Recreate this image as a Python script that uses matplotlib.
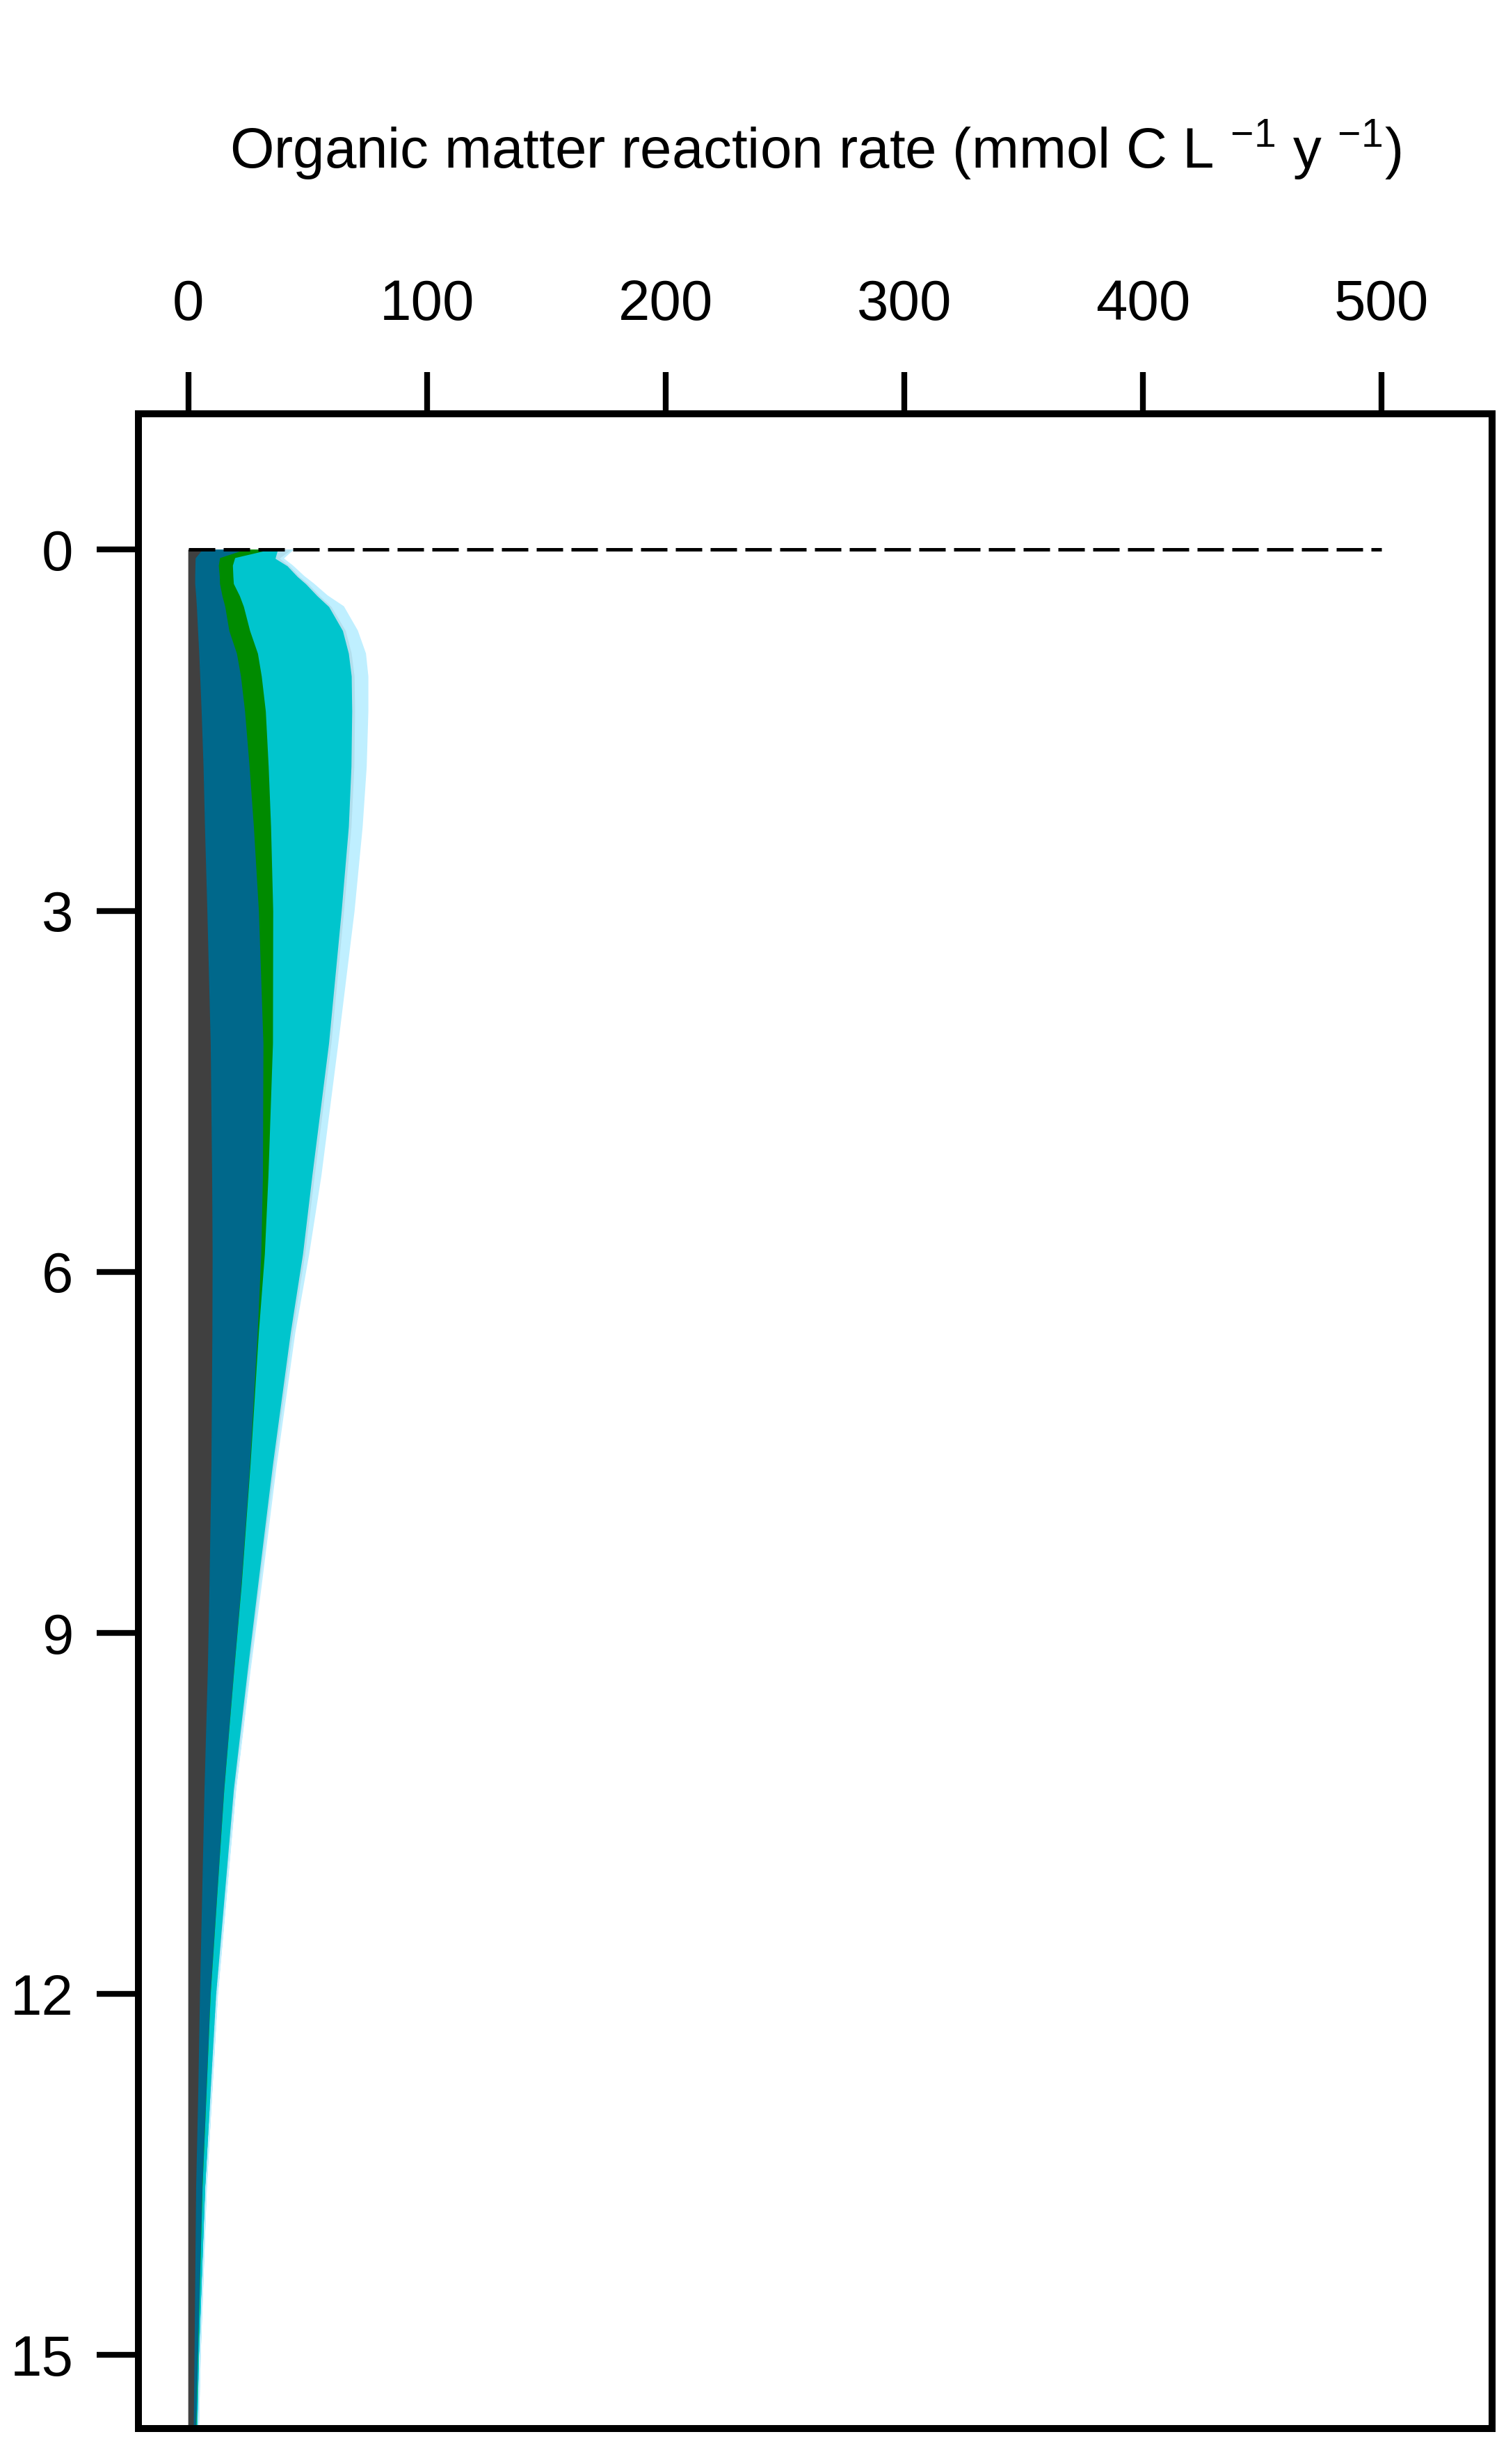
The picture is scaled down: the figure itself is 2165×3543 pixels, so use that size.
import numpy as np
import matplotlib
matplotlib.use("Agg")
import matplotlib.pyplot as plt

plt.rcParams['font.family'] = ['Liberation Sans', 'DejaVu Sans']
plt.rcParams['mathtext.fontset'] = 'custom'
plt.rcParams['mathtext.rm'] = 'Liberation Sans'
plt.rcParams['mathtext.it'] = 'Liberation Sans:italic'

# depth below the sediment surface
depth = [0.00, 0.07, 0.13, 0.22, 0.28, 0.38, 0.47, 0.67, 0.86, 1.05, 1.34, 1.80, 2.30, 3.00,
         4.10, 5.20, 5.85, 6.50, 7.60, 8.60, 9.30, 10.3, 12.0, 12.8, 13.6, 15.0, 15.6]

# reaction rate of each pathway (stacked left to right)
rate_gray = [6.0, 3.1, 3.0, 2.9, 2.9, 3.3, 3.6, 4.1, 4.6, 5.0, 5.6, 6.4, 7.0, 8.0,
             9.4, 10.0, 10.2, 10.1, 9.7, 8.9, 8.2, 6.8, 4.9, 4.2, 3.3, 2.6, 2.3]
rate_blue = [18.0, 10.2, 9.8, 10.3, 10.4, 11.0, 11.9, 13.1, 15.8, 17.1, 18.2, 19.3, 20.5, 21.6,
             22.1, 21.3, 20.4, 19.0, 16.2, 13.4, 11.1, 8.3, 4.5, 3.5, 2.7, 1.5, 1.1]
rate_green = [10.7, 6.3, 5.9, 5.7, 5.8, 7.3, 7.8, 8.7, 8.8, 8.7, 8.7, 8.0, 7.2, 6.0,
              4.0, 2.3, 1.5, 0.5, 0.2, 0.1, 0.0, 0.0, 0.0, 0.0, 0.0, 0.0, 0.0]
rate_cyan = [2.9, 17.0, 22.8, 26.9, 30.2, 32.5, 35.7, 38.9, 38.1, 37.7, 36.2, 34.7, 32.6, 28.7,
             23.5, 18.4, 16.0, 13.4, 9.4, 6.9, 5.7, 4.0, 2.3, 1.7, 1.2, 0.5, 0.5]
rate_lb2 = [5.8, 1.9, 0.9, 0.9, 1.0, 1.0, 1.0, 1.2, 1.2, 1.2, 1.2, 1.2, 1.1, 1.0,
            1.0, 1.0, 0.9, 0.8, 0.7, 0.6, 0.5, 0.4, 0.2, 0.2, 0.1, 0.1, 0.1]
rate_lb1 = [0.0, 1.0, 1.0, 1.6, 1.9, 2.9, 4.8, 4.6, 5.5, 5.3, 5.1, 4.7, 4.2, 3.9,
            2.4, 2.3, 1.2, 0.6, 0.4, 0.4, 0.2, 0.1, 0.1, 0.0, 0.0, 0.0, 0.0]

colors = ['#404040', '#00688B', '#008B00', '#00C5CD', '#B2DFEE', '#BFEFFF']
xticks = [0, 100, 200, 300, 400, 500]
yticks = [0, 3, 6, 9, 12, 15]

fig = plt.figure(figsize=(2165 / 300, 3543 / 300), dpi=300)
ax = fig.add_axes([0.0919, 0.01439, 0.8989, 0.8177])

layers = np.array([rate_gray, rate_blue, rate_green, rate_cyan, rate_lb2, rate_lb1])
cum = np.cumsum(layers, axis=0)
left = np.zeros(len(depth))
for i in range(len(layers)):
    ax.fill_betweenx(depth, left, cum[i], color=colors[i], linewidth=0.4)
    left = cum[i]

# sediment-water interface
ax.plot([0, 500], [0, 0], color='black', lw=1.2, dashes=(7.6, 2.4))

ax.set_xlim(-21, 546.4)
ax.set_ylim(15.61, -1.13)

ax.xaxis.tick_top()
ax.set_xticks(xticks)
ax.set_yticks(yticks)
ax.tick_params(axis='both', direction='out', length=14.4, width=2.0, labelsize=19.6)
ax.tick_params(axis='x', pad=14)
ax.tick_params(axis='y', pad=8)
for s in ax.spines.values():
    s.set_linewidth(2.4)

fig.text(0.5413, 0.9393, r"Organic matter reaction rate (mmol C L $^{-1}$ y $^{-1}$)",
         ha='center', va='center', fontsize=19.6)

fig.savefig('out.png', dpi=300)
